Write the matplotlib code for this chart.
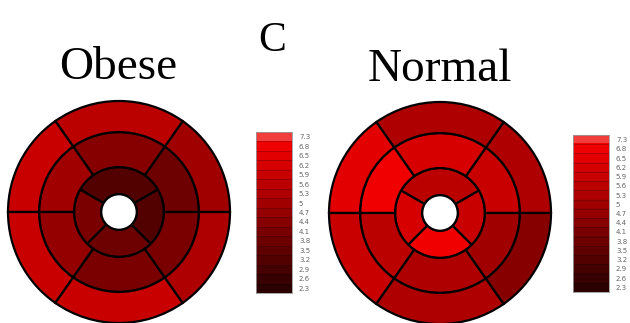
import numpy as np
import matplotlib
matplotlib.use('Agg')
import matplotlib.pyplot as plt
from matplotlib.patches import Wedge, Circle
from matplotlib.colors import ListedColormap

# colour scale labels (bottom to top)
levels = [2.3, 2.6, 2.9, 3.2, 3.5, 3.8, 4.1, 4.4, 4.7, 5, 5.3, 5.6, 5.9, 6.2, 6.5, 6.8, 7.3]

# segment boundaries (degrees, counter-clockwise from 3 o'clock)
outer_edges = [0, 55, 125, 180, 235, 305]
inner_edges = [30, 150, 225, 315]

# values per segment, in the order of the edges above
obese_outer = [5.0, 5.6, 5.9, 5.9, 5.9, 5.3]
obese_mid = [3.8, 4.4, 5.0, 4.7, 4.1, 4.1]
obese_inner = [3.2, 4.1, 3.8, 3.2]

normal_outer = [5.3, 5.3, 6.5, 5.9, 5.3, 4.4]
normal_mid = [5.9, 6.2, 6.8, 5.6, 5.3, 5.0]
normal_inner = [5.6, 6.2, 6.8, 5.9]

# black-red colour ramp, 17 steps
cols = [(0.17 + 0.77 * i / 15, 0, 0) for i in range(16)] + [(0.95, 0.24, 0.24)]
cmap = ListedColormap(cols)
lev = np.array(levels)

radii = [0.16, 0.405, 0.72, 1.0]

W, H = 630, 323
fig = plt.figure(figsize=(W / 100, H / 100), dpi=100)


def color_of(v):
    return cmap(int(np.abs(lev - v).argmin()))


def bullseye(cx, cy, outer, mid, inner):
    r = 111
    half = 1.03 * r
    ax = fig.add_axes([(cx - half) / W, (H - cy - half) / H, 2 * half / W, 2 * half / H])
    ax.set_xlim(-1.03, 1.03)
    ax.set_ylim(-1.03, 1.03)
    ax.set_aspect('equal')
    ax.axis('off')
    rings = [(inner, inner_edges, radii[0], radii[1]),
             (mid, outer_edges, radii[1], radii[2]),
             (outer, outer_edges, radii[2], radii[3])]
    for vals, edges, r0, r1 in rings:
        n = len(edges)
        for i in range(n):
            t1 = edges[i]
            t2 = edges[(i + 1) % n]
            if t2 <= t1:
                t2 += 360
            ax.add_patch(Wedge((0, 0), r1, t1, t2, width=r1 - r0,
                               facecolor=color_of(vals[i]), edgecolor='black',
                               linewidth=1.6, clip_on=False))
    ax.add_patch(Circle((0, 0), radii[0], facecolor='white', edgecolor='black',
                        linewidth=1.6, clip_on=False))


def colorbar(x0, x1, y0, y1):
    cax = fig.add_axes([x0 / W, (H - y1) / H, (x1 - x0) / W, (y1 - y0) / H])
    n = len(levels)
    cax.imshow(np.arange(n)[::-1, None], cmap=cmap, aspect='auto',
               interpolation='nearest', vmin=-0.5, vmax=n - 0.5)
    # faint separators between the bands
    for k in range(n - 1):
        cax.axhline(k + 0.5, color='black', alpha=0.25, linewidth=0.6)
    cax.set_xticks([])
    cax.yaxis.tick_right()
    cax.set_yticks(range(n))
    cax.set_yticklabels([f'{v:g}' for v in levels[::-1]], fontsize=5, color='#666666')
    cax.tick_params(axis='y', length=0, pad=5)
    for s in cax.spines.values():
        s.set_color('#999999')
        s.set_linewidth(0.6)


bullseye(119, 212, obese_outer, obese_mid, obese_inner)
bullseye(440, 213, normal_outer, normal_mid, normal_inner)
colorbar(256, 292, 132, 293)
colorbar(573, 609, 135, 292)

serif = ['Liberation Serif', 'DejaVu Serif']
fig.text(118 / W, (H - 79) / H, 'Obese', family=serif, fontsize=34, ha='center', va='baseline')
fig.text(440 / W, (H - 81) / H, 'Normal', family=serif, fontsize=34, ha='center', va='baseline')
fig.text(272 / W, (H - 51) / H, 'C', family=serif, fontsize=30, ha='center', va='baseline')

fig.savefig('out.png', dpi=100)
